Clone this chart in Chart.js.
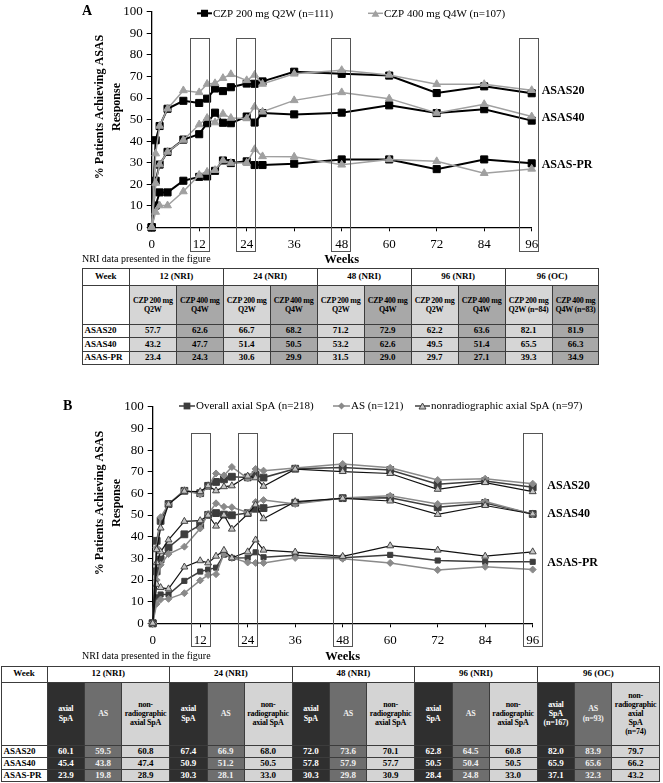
<!DOCTYPE html>
<html><head><meta charset="utf-8">
<script src="https://cdn.jsdelivr.net/npm/chart.js@4.4.1/dist/chart.umd.min.js"></script>
<style>
html,body{margin:0;padding:0;background:#fff;width:663px;height:783px;overflow:hidden;font-family:"Liberation Serif",serif;}
#wrapA{position:absolute;left:0;top:0;width:663px;height:268px;}
#wrapB{position:absolute;left:0;top:395px;width:663px;height:270px;}
table{position:absolute;border-collapse:collapse;table-layout:fixed;font-family:"Liberation Serif",serif;font-weight:bold;font-size:9px;line-height:1.05;color:#000;}
td{border:1px solid #3c3c3c;padding:0;text-align:center;vertical-align:middle;overflow:hidden;white-space:nowrap;}
td.lab{text-align:left;padding-left:2px;}
td.sub{font-size:8px;letter-spacing:-0.25px;line-height:1.15;}
#tabA{left:81.5px;top:268px;width:517px;}
#tabB{left:0.5px;top:665.5px;width:659px;}
</style></head>
<body>
<div id="wrapA"><canvas id="chartA"></canvas></div>
<div id="wrapB"><canvas id="chartB"></canvas></div>
<table id="tabA"></table>
<table id="tabB"></table>
<script>
const SERIF = '"Liberation Serif", "Times New Roman", serif';

// ---------- shared axis data ----------
const weeks  = [0,1,2,4,8,12,14,16,18,20,24,26,28,36,48,60,72,84,96];
const xTicks = [0,12,24,36,48,60,72,84,96];
const yTicks = [0,10,20,30,40,50,60,70,80,90,100];
const boxWeeks = [12,24,48,96];
const endLabels = ['ASAS20','ASAS40','ASAS-PR'];
const yTitleLines = ['% Patients Achieving ASAS','Response'];
const noteText = 'NRI data presented in the figure';

// ---------- panel A data ----------
const legendA = ['CZP 200 mg Q2W (n=111)','CZP 400 mg Q4W (n=107)'];
const a200_asas20 = [0,40.4,47,55,58.7,57.7,59.7,64.4,63.2,65,66.7,66.6,67.7,72.2,71.2,70.4,62.3,65.4,62.2];
const a200_asas40 = [0,21.6,29.1,35,40.7,43.2,48.3,53.2,48.5,48.3,51.4,48.6,53,52.4,53.2,56.6,53,54.8,49.5];
const a200_pr     = [0,10.1,16.2,16.2,21.6,23.4,23.6,26.2,31,29.8,30.6,28.9,28.9,29.5,31.5,31.5,27,31.5,29.7];
const a400_asas20 = [0,34.2,47,55,63.5,62.6,66.5,66.8,69.2,71,68.2,70.7,66.5,71.2,72.9,70.7,66.4,66.4,63.6];
const a400_asas40 = [0,20.5,29.1,35,40.5,47.7,50.7,48.6,52.6,50.7,50.5,55.9,53.6,58.9,62.6,59.7,53,57.1,51.4];
const a400_pr     = [0,7.1,10.1,10.1,16.6,24.3,25.7,26.5,31,29.8,29.9,36.2,32.9,32.7,29.0,31.5,30.6,25.1,27.1];

// ---------- panel B data ----------
const legendB = ['Overall axial SpA (n=218)','AS (n=121)','nonradiographic axial SpA (n=97)'];
const bAll_asas20 = [0,38.1,47.3,55.1,61.2,60.1,63.5,65.3,66.5,67.7,67.4,68.6,67.3,71.4,72.0,70.8,64.2,65.7,62.8];
const bAll_asas40 = [0,24,29.5,35,41.1,45.4,50.1,50.9,50.2,49.9,50.9,52.9,53.2,55.7,57.8,58,53.6,55.6,50.5];
const bAll_pr     = [0,12,13.3,13.3,19.6,23.9,24.8,25.7,31.7,30.2,30.3,32.8,30.5,31.4,30.3,31.6,29,28.4,28.4];
const bAS_asas20  = [0,35,49,55,61.5,59.5,63.3,69.2,68.3,72.2,66.9,71.3,70.5,71.7,73.6,71.8,66.2,66.8,64.5];
const bAS_asas40  = [0,20,27,32,35.4,43.8,50.5,55.4,53.8,53.6,51.2,56,56.9,55.1,57.9,58.9,55.1,56.3,50.4];
const bAS_pr      = [0,9,11,11.3,13.9,19.8,22.3,22.7,32,30.2,28.1,27.9,27.9,30.2,29.8,27.9,24.6,26.1,24.8];
const bNR_asas20  = [0,34,44,55,61,60.8,63.5,61.2,63.1,63.5,68.0,67.2,63.3,71.2,70.1,69.2,61.9,65,60.8];
const bNR_asas40  = [0,28,33,38.5,47.1,47.4,49.9,44.9,50,43.5,50.5,54.7,48.3,56.2,57.7,56.5,50.3,54.4,50.5];
const bNR_pr      = [0,18,16.5,15.9,26,28.9,27.9,31,33.7,30.2,33.0,38.5,33.8,32.9,30.9,35.8,33.8,31,33.0];

// ---------- table data ----------
const tabAGroups = ['12 (NRI)','24 (NRI)','48 (NRI)','96 (NRI)','96 (OC)'];
const tabASub = [['CZP 200 mg','Q2W'],['CZP 400 mg','Q4W'],['CZP 200 mg','Q2W'],['CZP 400 mg','Q4W'],['CZP 200 mg','Q2W'],['CZP 400 mg','Q4W'],['CZP 200 mg','Q2W'],['CZP 400 mg','Q4W'],['CZP 200 mg','Q2W (n=84)'],['CZP 400 mg','Q4W (n=83)']];
const tabARows = ['ASAS20','ASAS40','ASAS-PR'];
const tabAVals = [
  ['57.7','62.6','66.7','68.2','71.2','72.9','62.2','63.6','82.1','81.9'],
  ['43.2','47.7','51.4','50.5','53.2','62.6','49.5','51.4','65.5','66.3'],
  ['23.4','24.3','30.6','29.9','31.5','29.0','29.7','27.1','39.3','34.9']];
const tabBGroups = ['12 (NRI)','24 (NRI)','48 (NRI)','96 (NRI)','96 (OC)'];
const tabBSub = [
  ['axial','SpA'],['AS'],['non-','radiographic','axial SpA'],
  ['axial','SpA'],['AS'],['non-','radiographic','axial SpA'],
  ['axial','SpA'],['AS'],['non-','radiographic','axial SpA'],
  ['axial','SpA'],['AS'],['non-','radiographic','axial SpA'],
  ['axial','SpA','(n=167)'],['AS','(n=93)'],['non-','radiographic','axial','SpA','(n=74)']];
const tabBRows = ['ASAS20','ASAS40','ASAS-PR'];
const tabBVals = [
  ['60.1','59.5','60.8','67.4','66.9','68.0','72.0','73.6','70.1','62.8','64.5','60.8','82.0','83.9','79.7'],
  ['45.4','43.8','47.4','50.9','51.2','50.5','57.8','57.9','57.7','50.5','50.4','50.5','65.9','65.6','66.2'],
  ['23.9','19.8','28.9','30.3','28.1','33.0','30.3','29.8','30.9','28.4','24.8','33.0','37.1','32.3','43.2']];

// ---------- helpers ----------
function pts(vals){ return weeks.map((w,i)=>({x:w,y:vals[i]})); }
function ds(vals, st){ return Object.assign({data:pts(vals), tension:0, fill:false, clip:false}, st); }

function marker(ctx, style, x, y, r, fill, stroke, bw){
  ctx.beginPath();
  if (style==='rect'){ const s=Math.SQRT1_2*r; ctx.rect(x-s,y-s,2*s,2*s); }
  else if (style==='triangle'){
    for(let k=0;k<3;k++){ const a=k*2*Math.PI/3; const px=x+Math.sin(a)*r, py=y-Math.cos(a)*r+r*0.25; if(k===0)ctx.moveTo(px,py); else ctx.lineTo(px,py);} ctx.closePath();
  } else if (style==='rectRot'){ ctx.moveTo(x,y-r); ctx.lineTo(x+r,y); ctx.lineTo(x,y+r); ctx.lineTo(x-r,y); ctx.closePath(); }
  ctx.fillStyle=fill; ctx.fill();
  if (bw>0){ ctx.lineWidth=bw; ctx.strokeStyle=stroke; ctx.stroke(); }
}

const decor = {
  id:'decor',
  afterDatasetsDraw(chart, args, o){
    const ctx = chart.ctx, xs = chart.scales.x, ys = chart.scales.y;
    ctx.save();
    // highlight boxes
    ctx.strokeStyle = '#555'; ctx.lineWidth = 1;
    const bt = Math.round(ys.getPixelForValue(o.boxTop)) + 0.5;
    const bb = Math.round(ys.bottom + o.boxDrop) + 0.5;
    boxWeeks.forEach((w,i) => {
      const cx = xs.getPixelForValue(w) + (o.boxShift[i]||0);
      const l = Math.round(cx - o.boxHalf) + 0.5;
      ctx.strokeRect(l, bt, Math.round(2*o.boxHalf), bb - bt);
    });
    // end labels
    ctx.fillStyle = '#000'; ctx.textAlign = 'left'; ctx.textBaseline = 'middle';
    ctx.font = 'bold 12px ' + SERIF;
    const lx = xs.getPixelForValue(96) + o.labelDx;
    endLabels.forEach((t,i) => ctx.fillText(t, lx, ys.getPixelForValue(o.labelVals[i])));
    // panel letter
    ctx.font = 'bold 14px ' + SERIF;
    ctx.fillText(o.letter, o.letterX, o.letterY);
    // note
    ctx.font = '10px ' + SERIF;
    ctx.fillText(noteText, o.noteX, o.noteY);
    // y title
    ctx.save();
    ctx.translate(o.yTitleX, o.yTitleY); ctx.rotate(-Math.PI/2);
    ctx.font = 'bold 12px ' + SERIF; ctx.textAlign = 'center';
    yTitleLines.forEach((t,i) => ctx.fillText(t, 0, i*17));
    ctx.restore();
    // legend
    ctx.font = '11px ' + SERIF; ctx.textAlign='left'; ctx.textBaseline='middle';
    o.legend.forEach(it => {
      ctx.beginPath(); ctx.strokeStyle = it.line; ctx.lineWidth = it.lw;
      ctx.moveTo(it.x0, o.legendY); ctx.lineTo(it.x1, o.legendY); ctx.stroke();
      marker(ctx, it.style, it.mx, o.legendY, it.r, it.fill, it.stroke, it.bw);
      ctx.fillStyle = '#000';
      ctx.fillText(it.text, it.tx, o.legendY + 0.5);
    });
    ctx.restore();
  }
};

function opts(padTop, padRight, yW, xH, dec){
  return {
    responsive:true, maintainAspectRatio:false, animation:false, events:[],
    layout:{padding:{top:padTop,right:padRight,bottom:0,left:0}},
    plugins:{legend:{display:false}, tooltip:{enabled:false}, decor:dec},
    scales:{
      x:{type:'linear', min:0, max:96,
        afterBuildTicks:s=>{ s.ticks = xTicks.map(v=>({value:v})); },
        ticks:{color:'#000', font:{family:SERIF,size:13}, padding:5, maxRotation:0, autoSkip:false},
        grid:{display:true, drawOnChartArea:false, drawTicks:true, tickLength:4, color:'#000', lineWidth:1},
        border:{display:true, color:'#000', width:1.3},
        title:{display:true, text:'Weeks', color:'#000', font:{family:SERIF,size:12.5,weight:'bold'}, padding:{top:0,bottom:0.5}},
        afterFit:s=>{ s.height = xH; }
      },
      y:{min:0, max:100,
        afterBuildTicks:s=>{ s.ticks = yTicks.map(v=>({value:v})); },
        ticks:{color:'#000', font:{family:SERIF,size:13}, padding:4},
        grid:{display:true, drawOnChartArea:false, drawTicks:true, tickLength:5, color:'#000', lineWidth:1},
        border:{display:true, color:'#000', width:1.3},
        afterFit:s=>{ s.width = yW; }
      }
    }
  };
}

// ---------- panel A ----------
const stA400 = {borderColor:'#a0a0a0', borderWidth:1.5, pointStyle:'triangle', pointRadius:4.5, pointBackgroundColor:'#a0a0a0', pointBorderColor:'#a0a0a0', pointBorderWidth:1};
const stA200 = {borderColor:'#000', borderWidth:2, pointStyle:'rect', pointRadius:5, pointBackgroundColor:'#000', pointBorderColor:'#000', pointBorderWidth:1};
new Chart(document.getElementById('chartA'), {
  type:'line',
  data:{datasets:[
    ds(a400_asas20, stA400), ds(a400_asas40, stA400), ds(a400_pr, stA400),
    ds(a200_asas20, stA200), ds(a200_asas40, stA200), ds(a200_pr, stA200)]},
  options:opts(7.3, 131.3, 151.7, 40.7, {
    boxTop:87.7, boxDrop:23.5, boxHalf:9.5, boxShift:[0,-1,-1,-3.5], labelDx:10, labelVals:[63.2,50.6,29.1],
    letter:'A', letterX:82, letterY:11, noteX:82, noteY:259, yTitleX:100, yTitleY:107,
    legendY:13.3,
    legend:[
      {text:legendA[0], x0:197, x1:212, mx:204.5, tx:213, line:'#000', lw:2, style:'rect', r:5, fill:'#000', stroke:'#000', bw:0},
      {text:legendA[1], x0:368, x1:383, mx:375.5, tx:384, line:'#a0a0a0', lw:1.5, style:'triangle', r:4.5, fill:'#a0a0a0', stroke:'#a0a0a0', bw:0}
    ]
  })
  , plugins:[decor]
});

// ---------- panel B ----------
const stNR = {borderColor:'#111', borderWidth:1.2, pointStyle:'triangle', pointRadius:4, pointBackgroundColor:'#c4c4c4', pointBorderColor:'#444', pointBorderWidth:1};
const stAS = {borderColor:'#8a8a8a', borderWidth:1.5, pointStyle:'rectRot', pointRadius:3.5, pointBackgroundColor:'#8a8a8a', pointBorderColor:'#8a8a8a', pointBorderWidth:1};
const stAll = {borderColor:'#3d3d3d', borderWidth:1.5, pointStyle:'rect', pointRadius:4.8, pointBackgroundColor:'#3d3d3d', pointBorderColor:'#3d3d3d', pointBorderWidth:1};
const stAllSmall = Object.assign({}, stAll, {pointRadius:3.6});
new Chart(document.getElementById('chartB'), {
  type:'line',
  data:{datasets:[
    ds(bNR_asas20, stNR), ds(bNR_asas40, stNR), ds(bNR_pr, stNR),
    ds(bAS_asas20, stAS), ds(bAS_asas40, stAS), ds(bAS_pr, stAS),
    ds(bAll_asas20, stAll), ds(bAll_asas40, stAll), ds(bAll_pr, stAllSmall)]},
  options:opts(7.7, 130.3, 152.7, 41.7, {
    boxTop:88, boxDrop:23, boxHalf:9.5, boxShift:[0,0,0,0], labelDx:14.6, labelVals:[63.5,50.6,27.9],
    letter:'B', letterX:63, letterY:11, noteX:82, noteY:261, yTitleX:100, yTitleY:108,
    legendY:11,
    legend:[
      {text:legendB[0], x0:179, x1:195, mx:187, tx:196, line:'#3d3d3d', lw:1.5, style:'rect', r:4.8, fill:'#3d3d3d', stroke:'#3d3d3d', bw:0},
      {text:legendB[1], x0:333, x1:350, mx:341.5, tx:351, line:'#8a8a8a', lw:1.5, style:'rectRot', r:3.5, fill:'#8a8a8a', stroke:'#8a8a8a', bw:0},
      {text:legendB[2], x0:415, x1:430, mx:422.5, tx:431, line:'#111', lw:1.2, style:'triangle', r:4, fill:'#c4c4c4', stroke:'#444', bw:1}
    ]
  })
  , plugins:[decor]
});

// ---------- tables ----------
function buildTable(el, firstW, colW, groups, perGroup, subs, rows, vals, colBg, colFg, rowH){
  let h = '<colgroup><col style="width:'+firstW+'px">';
  colW.forEach(w => h += '<col style="width:'+w+'px">');
  h += '</colgroup>';
  h += '<tr style="height:'+rowH[0]+'px"><td>Week</td>';
  groups.forEach(g => h += '<td colspan="'+perGroup+'">'+g+'</td>');
  h += '</tr><tr style="height:'+rowH[1]+'px"><td></td>';
  subs.forEach((s,i) => h += '<td class="sub" style="background:'+colBg[i%colBg.length]+';color:'+colFg[i%colFg.length]+'">'+s.join('<br>')+'</td>');
  h += '</tr>';
  rows.forEach((r,ri) => {
    h += '<tr style="height:'+rowH[2]+'px"><td class="lab">'+r+'</td>';
    vals[ri].forEach((v,i) => h += '<td style="background:'+colBg[i%colBg.length]+';color:'+colFg[i%colFg.length]+'">'+v+'</td>');
    h += '</tr>';
  });
  el.innerHTML = h;
}
buildTable(document.getElementById('tabA'), 47.3, Array(10).fill(46.97), tabAGroups, 2, tabASub, tabARows, tabAVals,
  ['#d6d6d6','#a8a8a8'], ['#000','#000'], [16.7,39.3,13.3]);
buildTable(document.getElementById('tabB'), 46, [37.5,37,48,37.5,37,48,37.5,37,48,37.5,37,48,37.5,37,48], tabBGroups, 3, tabBSub, tabBRows, tabBVals,
  ['#2f2f2f','#6e6e6e','#d4d4d4'], ['#fff','#f0f0f0','#000'], [16,63.3,12]);
</script>
</body></html>
